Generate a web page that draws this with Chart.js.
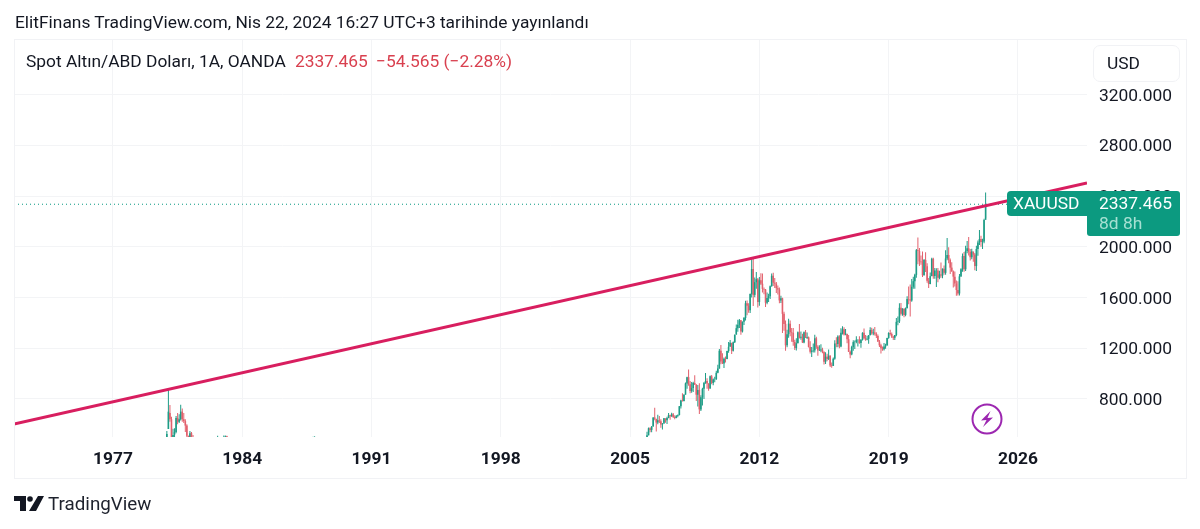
<!DOCTYPE html>
<html>
<head>
<meta charset="utf-8">
<script src="https://cdn.jsdelivr.net/npm/chart.js@4"></script>
<style>
  html, body { margin: 0; padding: 0; background: #fff; font-family: Roboto, sans-serif; color: #131722; }
  #wrap { position: relative; width: 1200px; height: 529px; overflow: hidden; }
  canvas { position: absolute; left: 0; top: 0; }
  .txt { position: absolute; white-space: pre; line-height: 20px; }
  #frame { position: absolute; left: 14px; top: 39px; width: 1171px; height: 438px; border: 1px solid #f1f2f5; box-sizing: content-box; pointer-events: none; }
  #usd { position: absolute; left: 1093px; top: 45px; width: 85px; height: 35px; border: 1px solid #f1f2f5; border-radius: 7px; background: #fff; }
</style>
</head>
<body>
<div id="wrap">
  <canvas id="chart" width="1200" height="529"></canvas>
  <div id="frame"></div>
  <div class="txt" style="left:15px;top:12px;font-size:17.36px">ElitFinans TradingView.com, Nis 22, 2024 16:27 UTC+3 tarihinde yayınlandı</div>
  <div class="txt" style="left:26px;top:51px;font-size:17.36px">Spot Altın/ABD Doları, 1A, OANDA</div>
  <div class="txt" style="left:295px;top:51px;font-size:17.36px;color:#d9404f">2337.465</div>
  <div class="txt" style="left:376px;top:51px;font-size:17.36px;color:#d9404f">−54.565 (−2.28%)</div>
  <div id="usd"></div>
  <div class="txt" style="left:1107px;top:53px;font-size:17.36px">USD</div>
  <svg style="position:absolute;left:970px;top:402px" width="34" height="34" viewBox="0 0 34 34">
    <circle cx="17" cy="17" r="14.5" fill="#fff" stroke="#9c27b0" stroke-width="2"/>
    <path d="M20.5 9 L11 18.5 L16.5 18 L13 25 L23 15.5 L17.5 16 Z" fill="#9c27b0"/>
  </svg>
  <svg style="position:absolute;left:14px;top:496px" width="30" height="15" viewBox="0 0 30 15">
    <path d="M0 0H12V15H6V5H0Z M24 0H30L22 15H15Z" fill="#131722"/>
    <circle cx="16" cy="3" r="2.8" fill="#131722"/>
  </svg>
  <div class="txt" style="left:48px;top:494px;font-size:18.8px;color:#1e222d">TradingView</div>
</div>
<script>
// monthly candles (yyyymm)
const candleMonths = [
  197912,
  198001,198002,198003,198004,198005,198006,198007,198008,198009,198010,198011,198012,
  198101,198102,198103,198104,198105,
  198209,198301,198302,198303,198711,198712,
  200511,200512,
  200601,200602,200603,200604,200605,200606,200607,200608,200609,200610,200611,200612,
  200701,200702,200703,200704,200705,200706,200707,200708,200709,200710,200711,200712,
  200801,200802,200803,200804,200805,200806,200807,200808,200809,200810,200811,200812,
  200901,200902,200903,200904,200905,200906,200907,200908,200909,200910,200911,200912,
  201001,201002,201003,201004,201005,201006,201007,201008,201009,201010,201011,201012,
  201101,201102,201103,201104,201105,201106,201107,201108,201109,201110,201111,201112,
  201201,201202,201203,201204,201205,201206,201207,201208,201209,201210,201211,201212,
  201301,201302,201303,201304,201305,201306,201307,201308,201309,201310,201311,201312,
  201401,201402,201403,201404,201405,201406,201407,201408,201409,201410,201411,201412,
  201501,201502,201503,201504,201505,201506,201507,201508,201509,201510,201511,201512,
  201601,201602,201603,201604,201605,201606,201607,201608,201609,201610,201611,201612,
  201701,201702,201703,201704,201705,201706,201707,201708,201709,201710,201711,201712,
  201801,201802,201803,201804,201805,201806,201807,201808,201809,201810,201811,201812,
  201901,201902,201903,201904,201905,201906,201907,201908,201909,201910,201911,201912,
  202001,202002,202003,202004,202005,202006,202007,202008,202009,202010,202011,202012,
  202101,202102,202103,202104,202105,202106,202107,202108,202109,202110,202111,202112,
  202201,202202,202203,202204,202205,202206,202207,202208,202209,202210,202211,202212,
  202301,202302,202303,202304,202305,202306,202307,202308,202309,202310,202311,202312,
  202401,202402,202403,202404
];
const opens = [
  455,
  563,690,640,500,520,540,650,620,640,700,640,625,
  590,510,490,530,490,
  480,450,490,505,470,490,
  465,495,
  513,569,556,582,654,644,614,632,624,599,604,648,
  632,650,672,663,679,658,650,665,672,743,789,783,
  834,923,972,916,864,886,926,914,834,872,718,814,
  880,927,942,922,883,979,927,955,955,1007,1040,1181,
  1096,1081,1118,1115,1179,1212,1244,1181,1248,1307,1359,1386,
  1421,1333,1410,1439,1556,1536,1500,1628,1826,1622,1722,1746,
  1565,1737,1710,1669,1664,1560,1597,1611,1691,1773,1718,1711,
  1675,1664,1578,1595,1472,1393,1224,1312,1395,1327,1323,1250,
  1202,1240,1326,1284,1291,1246,1327,1282,1287,1211,1172,1182,
  1184,1279,1213,1183,1183,1190,1172,1095,1134,1115,1142,1065,
  1061,1118,1238,1234,1293,1215,1322,1350,1309,1316,1272,1173,
  1152,1211,1249,1249,1268,1269,1242,1269,1322,1280,1270,1275,
  1303,1345,1318,1325,1315,1298,1253,1224,1201,1192,1215,1222,
  1282,1321,1313,1292,1283,1305,1409,1413,1520,1472,1513,1464,
  1517,1589,1585,1577,1686,1730,1780,1975,1968,1886,1879,1777,
  1898,1847,1734,1708,1769,1907,1770,1814,1814,1757,1783,1774,
  1829,1796,1909,1937,1897,1837,1807,1766,1711,1660,1633,1768,
  1824,1928,1824,1969,1990,1962,1919,1965,1940,1849,1984,2036,
  2063,2039,2044,2214
];
const highs = [
  548,
  873,752,660,565,570,665,690,680,755,725,690,640,
  600,510,547,540,515,
  510,512,511,510,502,505,
  497,541,
  575,577,586,656,730,640,675,665,640,611,650,645,
  660,690,676,692,690,672,673,677,745,795,846,838,
  930,976,1033,942,935,936,988,916,911,925,830,888,
  935,1006,964,925,985,990,962,975,1023,1070,1195,1227,
  1162,1128,1135,1181,1249,1266,1212,1254,1309,1388,1425,1431,
  1424,1411,1448,1575,1577,1556,1632,1912,1921,1760,1803,1755,
  1764,1792,1790,1680,1668,1640,1630,1695,1790,1797,1755,1723,
  1695,1680,1616,1600,1488,1420,1347,1434,1420,1361,1361,1267,
  1279,1332,1392,1332,1315,1332,1345,1324,1294,1255,1210,1239,
  1307,1292,1224,1224,1232,1205,1175,1169,1157,1191,1145,1089,
  1128,1263,1287,1304,1303,1358,1375,1367,1352,1312,1306,1182,
  1220,1264,1261,1295,1270,1296,1270,1326,1357,1306,1299,1305,
  1366,1362,1355,1369,1326,1309,1265,1237,1214,1243,1237,1284,
  1326,1346,1324,1300,1303,1439,1452,1555,1557,1516,1515,1523,
  1611,1689,1703,1747,1765,1789,1984,2075,1992,1933,1965,1906,
  1959,1872,1755,1798,1916,1916,1834,1833,1834,1813,1877,1830,
  1853,1974,2070,1998,1910,1879,1814,1807,1735,1730,1786,1833,
  1949,1960,2009,2048,2078,1984,1987,1949,1953,2009,2052,2135,
  2088,2065,2222,2431
];
const lows = [
  450,
  563,620,500,480,490,530,600,610,630,620,610,540,
  490,480,480,470,470,
  470,440,480,480,460,480,
  455,490,
  513,538,537,582,633,543,600,610,573,560,615,612,
  602,648,636,660,650,640,648,655,672,725,780,785,
  835,880,905,845,850,855,911,785,740,681,705,748,
  800,920,880,865,880,917,908,932,951,1003,1040,1075,
  1076,1045,1088,1114,1165,1215,1156,1175,1243,1315,1330,1361,
  1308,1325,1385,1420,1462,1480,1478,1602,1534,1604,1670,1523,
  1537,1700,1640,1627,1527,1548,1565,1590,1687,1692,1676,1636,
  1625,1555,1558,1321,1339,1180,1208,1284,1296,1251,1221,1187,
  1182,1240,1278,1268,1243,1240,1281,1273,1206,1160,1131,1167,
  1167,1197,1142,1178,1170,1162,1072,1077,1098,1107,1052,1046,
  1062,1110,1208,1208,1200,1208,1310,1301,1303,1241,1171,1122,
  1146,1180,1195,1241,1214,1236,1204,1262,1270,1260,1264,1236,
  1303,1307,1303,1302,1282,1250,1211,1160,1180,1182,1196,1222,
  1276,1302,1281,1266,1266,1296,1382,1400,1459,1458,1445,1454,
  1517,1548,1451,1567,1670,1671,1757,1863,1849,1860,1764,1775,
  1802,1717,1677,1706,1770,1750,1750,1684,1721,1746,1758,1753,
  1780,1780,1895,1872,1787,1805,1681,1688,1615,1617,1617,1765,
  1805,1805,1810,1950,1933,1893,1903,1884,1816,1811,1931,2016,
  2002,1984,2030,2229
];
const closes = [
  524,
  700,640,500,515,540,650,620,640,700,640,625,590,
  510,490,530,490,480,
  497,490,505,495,490,498,
  495,513,
  569,556,582,654,644,614,632,624,599,604,648,632,
  650,672,663,679,658,650,665,672,743,789,783,834,
  923,972,916,864,886,926,914,834,872,718,814,880,
  927,942,922,883,979,927,955,955,1007,1040,1181,1096,
  1081,1118,1115,1179,1212,1244,1181,1248,1307,1359,1386,1421,
  1333,1410,1439,1556,1536,1500,1628,1826,1622,1722,1746,1565,
  1737,1710,1669,1664,1560,1597,1611,1691,1773,1718,1711,1675,
  1664,1578,1595,1472,1393,1224,1312,1395,1327,1323,1250,1202,
  1240,1326,1284,1291,1246,1327,1282,1287,1211,1172,1182,1184,
  1279,1213,1183,1183,1190,1172,1095,1134,1115,1142,1065,1061,
  1118,1238,1234,1293,1215,1322,1350,1309,1316,1272,1173,1152,
  1211,1249,1249,1268,1269,1242,1269,1322,1280,1270,1275,1303,
  1345,1318,1325,1315,1298,1253,1224,1201,1192,1215,1222,1282,
  1321,1313,1292,1283,1305,1409,1413,1520,1472,1513,1464,1517,
  1589,1585,1577,1686,1730,1780,1975,1968,1886,1879,1777,1898,
  1847,1734,1708,1769,1907,1770,1814,1814,1757,1783,1774,1829,
  1796,1909,1937,1897,1837,1807,1766,1711,1660,1633,1768,1824,
  1928,1824,1969,1990,1962,1919,1965,1940,1849,1984,2036,2063,
  2039,2044,2214,2337.465
];

const yearTicks = [1977, 1984, 1991, 1998, 2005, 2012, 2019, 2026];
const priceTicks = [800, 1200, 1600, 2000, 2400, 2800, 3200];
const trendYears = [1971.64, 2029.74];
const trendPrices = [602.6, 2505];
const lastPrice = 2337.465;

const GREEN = '#1d9c86';
const RED = '#e2606c';
const GRID = '#f3f4f6';
const FONT = 'Roboto, sans-serif';

const monthToYear = (m) => Math.floor(m / 100) + (m % 100 - 1) / 12;
const candleColor = (i) => (closes[i] >= opens[i] ? GREEN : RED);

const xs = candleMonths.map(monthToYear);
const wicks = xs.map((x, i) => ({ x: x, y: [lows[i], highs[i]] }));
const bodies = xs.map((x, i) => ({ x: x, y: [opens[i], closes[i]] }));

// price tags on the right, drawn over the axis labels
const priceTag = {
  id: 'priceTag',
  afterDraw(chart) {
    const ctx = chart.ctx;
    const right = chart.chartArea.right;
    const top = Math.round(chart.scales.y.getPixelForValue(lastPrice)) - 13;
    ctx.save();
    ctx.fillStyle = '#0c9a80';
    ctx.beginPath();
    ctx.roundRect(right - 80, top, 80, 25, [4, 0, 0, 4]);
    ctx.fill();
    ctx.beginPath();
    ctx.roundRect(right, top, 93, 45, [0, 3, 3, 3]);
    ctx.fill();
    ctx.textBaseline = 'middle';
    ctx.textAlign = 'left';
    ctx.font = '17.4px ' + FONT;
    ctx.fillStyle = '#ffffff';
    ctx.fillText('XAUUSD', right - 74, top + 14);
    ctx.fillText('2337.465', right + 12, top + 14);
    ctx.fillStyle = '#a6e0d2';
    ctx.fillText('8d 8h', right + 12, top + 34);
    ctx.restore();
  }
};

new Chart(document.getElementById('chart').getContext('2d'), {
  type: 'bar',
  plugins: [priceTag],
  data: {
    datasets: [
      {
        type: 'line',
        data: trendYears.map((x, i) => ({ x: x, y: trendPrices[i] })),
        borderColor: '#d81e5f',
        borderWidth: 3,
        pointRadius: 0,
        order: 0
      },
      {
        type: 'line',
        data: [{ x: trendYears[0], y: lastPrice }, { x: trendYears[1], y: lastPrice }],
        borderColor: '#089981',
        borderWidth: 1,
        borderDash: [1, 3],
        pointRadius: 0,
        order: 1
      },
      {
        data: bodies,
        backgroundColor: bodies.map((b, i) => candleColor(i)),
        barThickness: 1.6,
        inflateAmount: 0,
        grouped: false,
        order: 2
      },
      {
        data: wicks,
        backgroundColor: wicks.map((w, i) => candleColor(i)),
        barThickness: 1,
        inflateAmount: 0,
        grouped: false,
        order: 3
      }
    ]
  },
  options: {
    responsive: false,
    animation: false,
    layout: { padding: { left: 14, top: 40, right: 15, bottom: 52 } },
    plugins: { legend: { display: false }, tooltip: { enabled: false } },
    scales: {
      x: {
        type: 'linear',
        offset: false,
        min: 1971.64,
        max: 2029.74,
        afterBuildTicks: (s) => { s.ticks = yearTicks.map((v) => ({ value: v })); },
        afterFit: (s) => { s.height = 40; s.paddingLeft = 0; s.paddingRight = 0; },
        grid: { color: GRID, drawTicks: false, offset: false },
        border: { display: false },
        ticks: {
          autoSkip: false,
          maxRotation: 0,
          padding: 12,
          color: '#131722',
          font: { family: FONT, size: 17.4, weight: 'bold' },
          callback: (v) => String(v)
        }
      },
      y: {
        position: 'right',
        min: 500,
        max: 3634,
        afterBuildTicks: (s) => { s.ticks = priceTicks.map((v) => ({ value: v })); },
        afterFit: (s) => { s.width = 98; s.paddingTop = 0; s.paddingBottom = 0; },
        grid: { color: GRID, drawTicks: false },
        border: { display: false },
        ticks: {
          padding: 12,
          labelOffset: 1.5,
          color: '#131722',
          font: { family: FONT, size: 17.4 },
          callback: (v) => v.toFixed(3)
        }
      }
    }
  }
});
</script>
</body>
</html>
